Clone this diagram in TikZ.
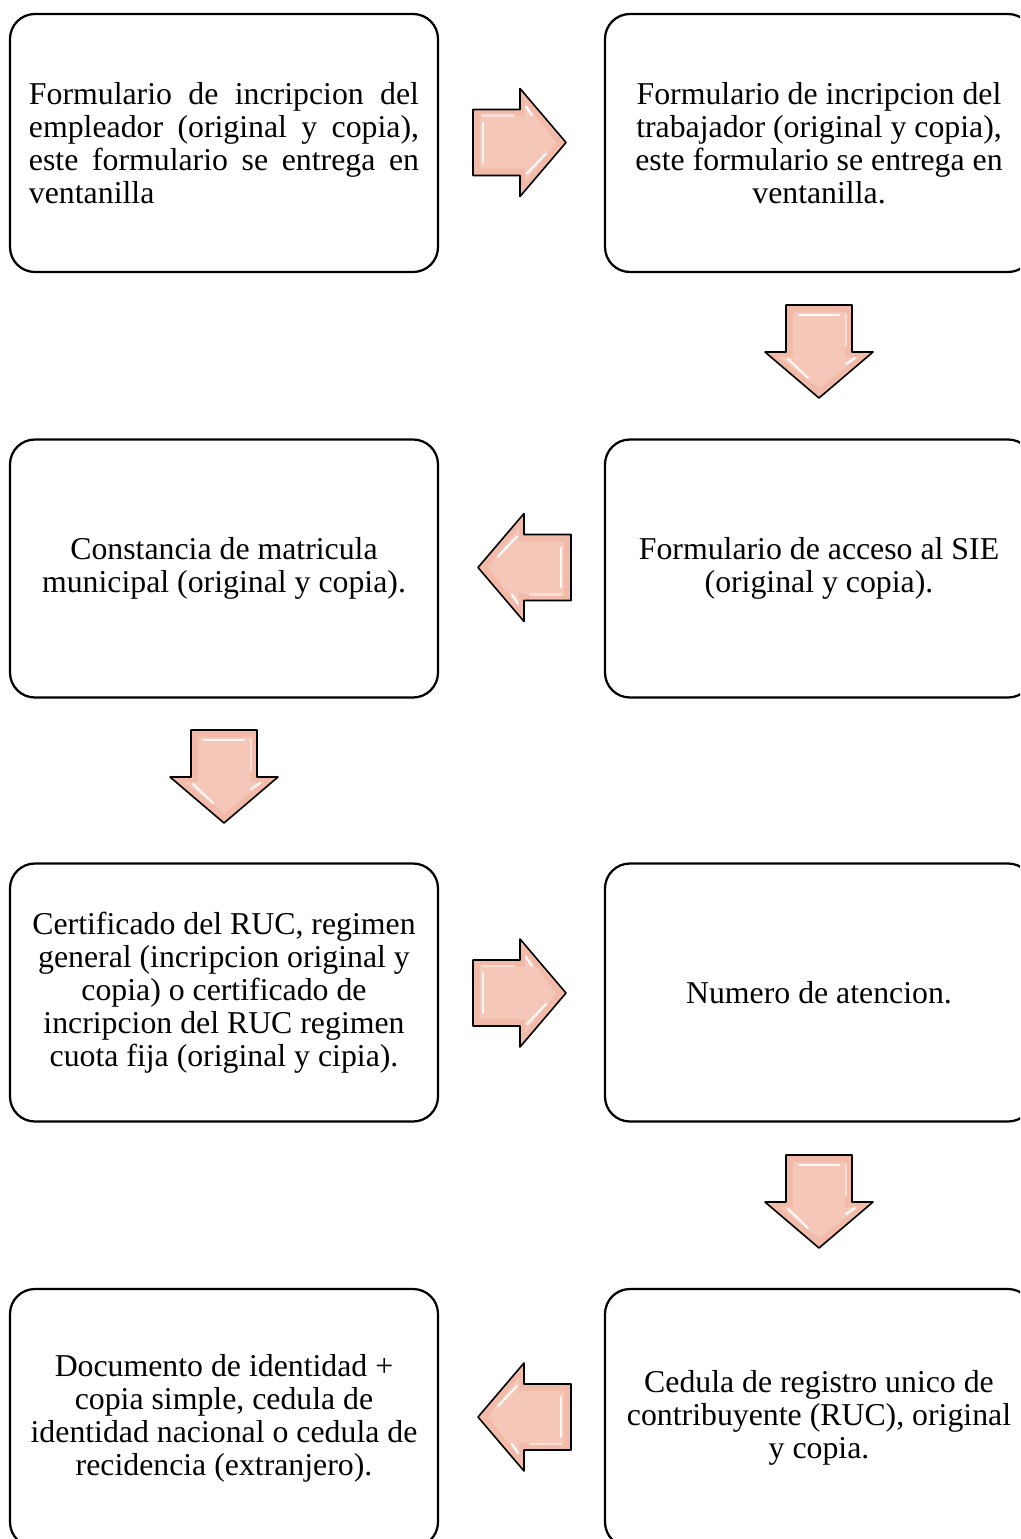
\documentclass[tikz,border=0pt]{standalone}
\usepackage{fontspec}
\setmainfont{Liberation Serif}
\begin{document}
\begin{tikzpicture}[x=0.3774pt,y=-0.3774pt,
  box/.style={draw=black, line width=0.85pt, rounded corners=9.4pt,
    minimum width={428*0.3774pt}, minimum height={258*0.3774pt},
    align=center, font=\fontsize{12}{12.45}\selectfont, inner sep=0pt},
  blockfill/.style={fill=arrowpink, draw=black, line width=0.6pt, line join=round},
  shine/.style={draw=white, line width=0.8pt, line cap=round, opacity=0.9},
  pics/blockarrow/.style={code={
    \path[blockfill] (-47,-33) -- (0,-33) -- (0,-54) -- (46,0) -- (0,54)
      -- (0,33) -- (-47,33) -- cycle;
    \path[fill=white, opacity=0.18] (-40,-26) -- (5,-26) -- (5,-40) -- (36,0)
      -- (5,40) -- (5,26) -- (-40,26) -- cycle;
    \draw[shine] (-37,-20) -- (-37,20);
    \draw[shine] (6,-36) -- (12,-27);
    \draw[shine] (7,31) -- (26,11);
    \draw[shine, opacity=0.5] (-38,-27) -- (-6,-27);
  }}]
\definecolor{arrowpink}{HTML}{F2BBA9}
\useasboundingbox (0,0) rectangle (1020,1539);
\clip (0,0) rectangle (1020,1539);

% step boxes, left and right columns
\node[box, align=left] (b1) at (224,143) {%
  \makebox[147.2pt][s]{Formulario de incripcion del}\\
  \makebox[147.2pt][s]{empleador (original y copia),}\\
  \makebox[147.2pt][s]{este formulario se  entrega en}\\
  \makebox[147.2pt][l]{ventanilla}};
\node[box] (b2) at (819,143) {Formulario de incripcion del\\trabajador (original y copia),\\este formulario se entrega en\\ventanilla.};
\node[box] (b3) at (819,568.5) {Formulario de acceso al SIE\\(original y copia).};
\node[box] (b4) at (224,568.5) {Constancia de matricula\\municipal (original y copia).};
\node[box] (b5) at (224,992.5) {Certificado del RUC, regimen\\general (incripcion original y\\copia) o certificado de\\incripcion del RUC regimen\\cuota fija (original y cipia).};
\node[box] (b6) at (819,992.5) {Numero de atencion.};
\node[box] (b7) at (819,1418) {Cedula de registro unico de\\contribuyente (RUC), original\\y copia.};
\node[box] (b8) at (224,1418) {Documento de identidad +\\copia simple, cedula de\\identidad nacional o cedula de\\recidencia (extranjero).};

% block arrows between the steps
\pic at (520,142.5) {blockarrow};
\pic[rotate=-90] at (819,352) {blockarrow};
\pic[rotate=180] at (524,567.5) {blockarrow};
\pic[rotate=-90] at (224,777) {blockarrow};
\pic at (520,993) {blockarrow};
\pic[rotate=-90] at (819,1202) {blockarrow};
\pic[rotate=180] at (524,1417) {blockarrow};
\end{tikzpicture}
\end{document}
